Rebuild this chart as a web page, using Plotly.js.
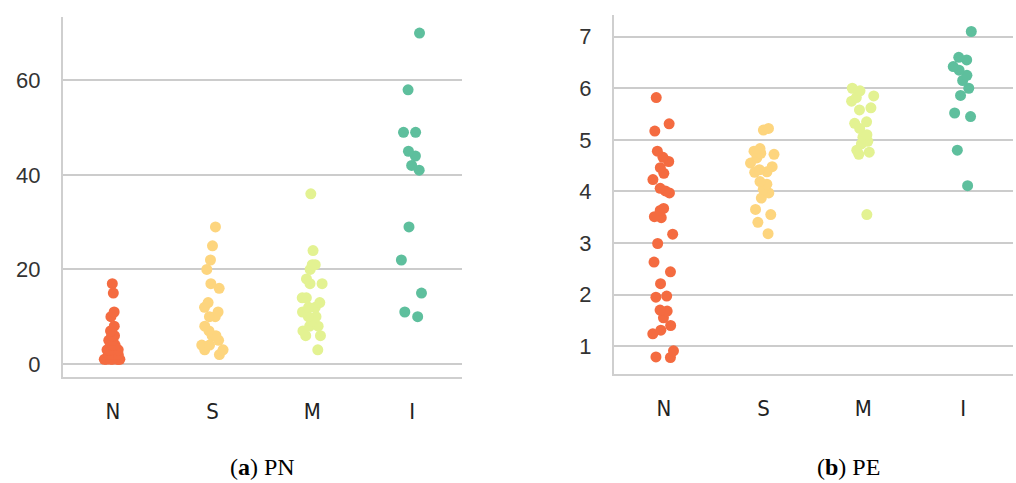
<!DOCTYPE html>
<html>
<head>
<meta charset="utf-8">
<script src="https://cdn.plot.ly/plotly-3.0.1.min.js"></script>
<style>
  html, body { margin: 0; padding: 0; background: #ffffff; }
  #chart { width: 1016px; height: 483px; }
</style>
</head>
<body>
<div id="chart"></div>
<script>
// Categories and colours
const categories = ['N', 'S', 'M', 'I'];
const colors = ['#f46b40', '#fdd57e', '#e3f292', '#5ebf9d'];

// (a) PN values per category
const pnN = [17, 15, 11, 10, 8, 7, 7, 6, 6, 6, 5, 5, 5, 4, 4, 4, 4, 3, 3, 3, 3, 3, 2, 2, 2, 2, 2, 1, 1, 1, 1, 1, 1, 1, 2];
const pnS = [29, 25, 22, 20, 17, 16, 13, 12, 11, 10, 10, 8, 7, 6, 6, 5, 4, 4, 3, 3, 2];
const pnM = [36, 24, 21, 21, 20, 18, 17, 17, 14, 14, 13, 12, 12, 11, 10, 10, 9, 8, 8, 7, 6, 6, 3];
const pnI = [70, 58, 49, 49, 45, 44, 42, 41, 29, 22, 15, 11, 10];

// (b) PE values per category
const peN = [5.82, 5.31, 5.17, 4.78, 4.66, 4.58, 4.46, 4.35, 4.23, 4.06, 4.01, 3.97, 3.67, 3.63, 3.51, 3.49,
             3.17, 2.99, 2.63, 2.44, 2.21, 1.97, 1.95, 1.70, 1.68, 1.55, 1.40, 1.31, 1.24, 0.91, 0.79, 0.78];
const peS = [5.19, 5.22, 4.83, 4.78, 4.74, 4.72, 4.65, 4.55, 4.48, 4.42, 4.37, 4.38, 4.19, 4.14, 4.04,
             3.97, 3.87, 3.65, 3.55, 3.40, 3.18];
const peM = [6.00, 5.95, 5.85, 5.82, 5.75, 5.62, 5.58, 5.35, 5.32, 5.22, 5.10, 5.05, 4.97, 4.92, 4.80, 4.76, 4.72, 3.55];
const peI = [7.10, 6.60, 6.55, 6.42, 6.35, 6.25, 6.15, 6.00, 5.86, 5.52, 5.45, 4.80, 4.11];

// Tick values
const pnTicks = [0, 20, 40, 60];
const peTicks = [1, 2, 3, 4, 5, 6, 7];

// Captions
const captionA = '(<b>a</b>) PN';
const captionB = '(<b>b</b>) PE';

const pnSeries = [pnN, pnS, pnM, pnI];
const peSeries = [peN, peS, peM, peI];

function strip(vals, ci, xa, ya) {
  return {
    type: 'box',
    x: vals.map(() => categories[ci]),
    y: vals,
    xaxis: xa, yaxis: ya,
    boxpoints: 'all',
    jitter: 0.45,
    pointpos: 0,
    width: 0.6,
    fillcolor: 'rgba(0,0,0,0)',
    line: { width: 0, color: 'rgba(0,0,0,0)' },
    marker: { color: colors[ci], size: 11, opacity: 1, line: { width: 0 } },
    showlegend: false,
    hoveron: 'points'
  };
}

const traces = [];
pnSeries.forEach((v, i) => traces.push(strip(v, i, 'x', 'y')));
peSeries.forEach((v, i) => traces.push(strip(v, i, 'x2', 'y2')));

const W = 1016, H = 483;
const tickFont = { family: 'Liberation Sans, Arial, sans-serif', size: 22, color: '#333333' };
const catFont = { family: 'Liberation Sans Narrow, Arial Narrow, DejaVu Sans Condensed, sans-serif', size: 22, color: '#222222' };
const capFont = { family: 'Liberation Serif, Times New Roman, serif', size: 24, color: '#000000' };

function xAxis(domain, anchor) {
  return {
    domain: domain, anchor: anchor,
    type: 'category',
    categoryorder: 'array', categoryarray: categories,
    range: [-0.5, 3.5],
    showgrid: false, zeroline: false,
    showline: true, linecolor: '#cfcfcf', linewidth: 2,
    ticks: '', tickfont: catFont, ticklabelstandoff: 14,
    fixedrange: true
  };
}
function yAxis(domain, anchor, range, ticks) {
  return {
    domain: domain, anchor: anchor,
    range: range,
    tickmode: 'array', tickvals: ticks,
    showgrid: true, gridcolor: '#cccccc', gridwidth: 2,
    zeroline: false,
    showline: true, linecolor: '#cfcfcf', linewidth: 2,
    ticks: '', tickfont: tickFont, ticklabelstandoff: 16,
    fixedrange: true
  };
}

const layout = {
  width: W, height: H,
  margin: { l: 0, r: 0, t: 0, b: 0 },
  paper_bgcolor: '#ffffff', plot_bgcolor: '#ffffff',
  boxmode: 'overlay',
  xaxis: xAxis([63 / W, 462 / W], 'y'),
  yaxis: yAxis([1 - 377 / H, 1 - 17 / H], 'x', [-2.75, 73.4], pnTicks),
  xaxis2: xAxis([614 / W, 1013 / W], 'y2'),
  yaxis2: yAxis([1 - 374 / H, 1 - 15 / H], 'x2', [0.46, 7.42], peTicks),
  annotations: [
    { text: captionA, xref: 'paper', yref: 'paper', x: 262 / W, y: 1 - 467 / H,
      xanchor: 'center', yanchor: 'middle', showarrow: false, font: capFont },
    { text: captionB, xref: 'paper', yref: 'paper', x: 848 / W, y: 1 - 467 / H,
      xanchor: 'center', yanchor: 'middle', showarrow: false, font: capFont }
  ]
};

Plotly.newPlot('chart', traces, layout, { displayModeBar: false, staticPlot: true });
</script>
</body>
</html>
